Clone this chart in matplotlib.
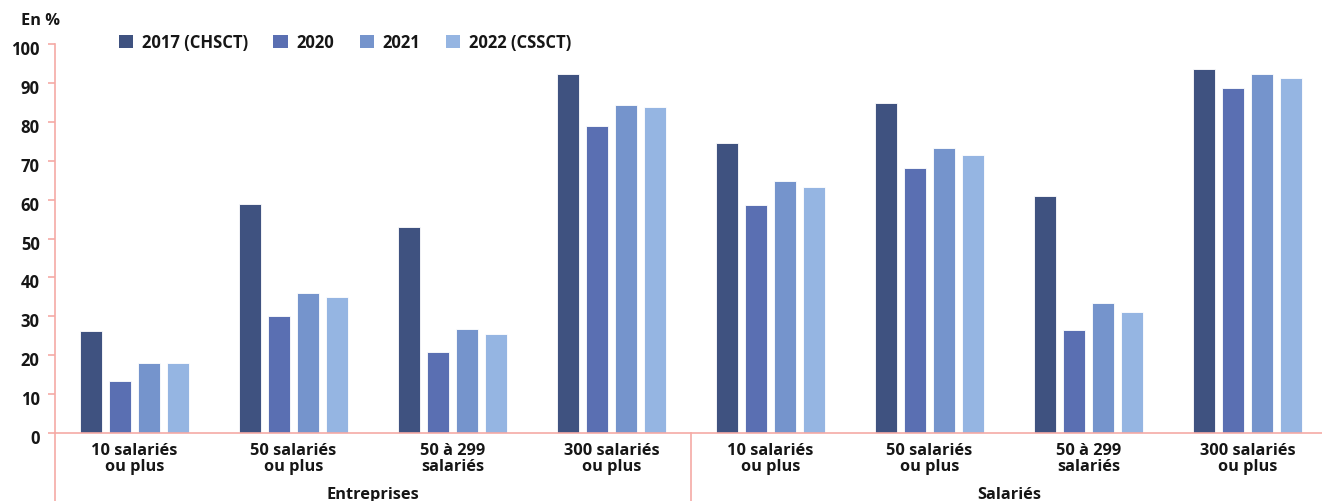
import numpy as np
import matplotlib.pyplot as plt
from matplotlib.patches import Patch
from matplotlib.transforms import ScaledTranslation

plt.rcParams['font.family'] = ['Open Sans', 'DejaVu Sans']
plt.rcParams['font.weight'] = 'bold'

categories = ['10 salariés\nou plus', '50 salariés\nou plus', '50 à 299\nsalariés', '300 salariés\nou plus',
              '10 salariés\nou plus', '50 salariés\nou plus', '50 à 299\nsalariés', '300 salariés\nou plus']
groups = ['Entreprises', 'Salariés']
series = ['2017 (CHSCT)', '2020', '2021', '2022 (CSSCT)']

v2017 = [26.3, 58.9, 52.9, 92.3, 74.4, 84.8, 61.0, 93.5]
v2020 = [13.3, 30.2, 20.8, 78.8, 58.7, 68.0, 26.4, 88.6]
v2021 = [18.0, 36.0, 26.7, 84.3, 64.7, 73.2, 33.4, 92.3]
v2022 = [18.1, 34.9, 25.6, 83.8, 63.3, 71.4, 31.2, 91.2]

colors = ['#3f5280', '#5a6fb2', '#7594cc', '#95b5e2']
axis_col = '#f5aaa5'
txt = '#161616'

W, H = 1322, 502
fig = plt.figure(figsize=(W / 100, H / 100), dpi=100)
ax = fig.add_axes([55 / W, (H - 434.3) / H, 1272 / W, (434.3 - 44.7) / H])

x = np.arange(len(categories))
step = 0.1825
width = 0.143
for i, vals in enumerate([v2017, v2020, v2021, v2022]):
    ax.bar(x + (i - 1.5) * step, vals, width, color=colors[i],
           edgecolor='white', linewidth=0.6, zorder=2)

ax.set_xlim(-0.5, 7.5)
ax.set_ylim(0, 100)
ax.set_yticks(range(0, 101, 10))
ax.set_xticks([])
for s in ['top', 'right']:
    ax.spines[s].set_visible(False)
for s in ['left', 'bottom']:
    ax.spines[s].set_color(axis_col)
    ax.spines[s].set_linewidth(1.2)
ax.tick_params(axis='y', length=5, width=1.2, color=axis_col, pad=6,
               labelsize=12, labelcolor=txt)
shift = ScaledTranslation(0, -3 / 100, fig.dpi_scale_trans)
for lab in ax.get_yticklabels():
    lab.set_transform(lab.get_transform() + shift)

# axis lines running below the plot, and group separator
ax.plot([-0.5, -0.5], [0, -30], color=axis_col, lw=1.2, clip_on=False)
ax.plot([3.5, 3.5], [0, -30], color=axis_col, lw=1.2, clip_on=False)

for xi, lab in zip(x, categories):
    ax.text(xi, -2.3, lab, ha='center', va='top', fontsize=11.8,
            linespacing=0.95, color=txt)
for gx, g in zip([1.5, 5.5], groups):
    ax.text(gx, -13.6, g, ha='center', va='top', fontsize=11.8, color=txt)

fig.text(21 / W, 1 - 21 / H, 'En %', ha='left', va='center', fontsize=11.8,
         fontweight='bold', color=txt)

handles = [Patch(facecolor=c, edgecolor='none') for c in colors]
leg = fig.legend(handles, series, loc='center left', bbox_to_anchor=(104 / W, 1 - 43 / H),
                 ncol=4, frameon=False, handlelength=0.85, handleheight=0.85,
                 handletextpad=0.55, columnspacing=1.5, fontsize=12)
for t in leg.get_texts():
    t.set_color(txt)

fig.savefig('out.png', dpi=100)
